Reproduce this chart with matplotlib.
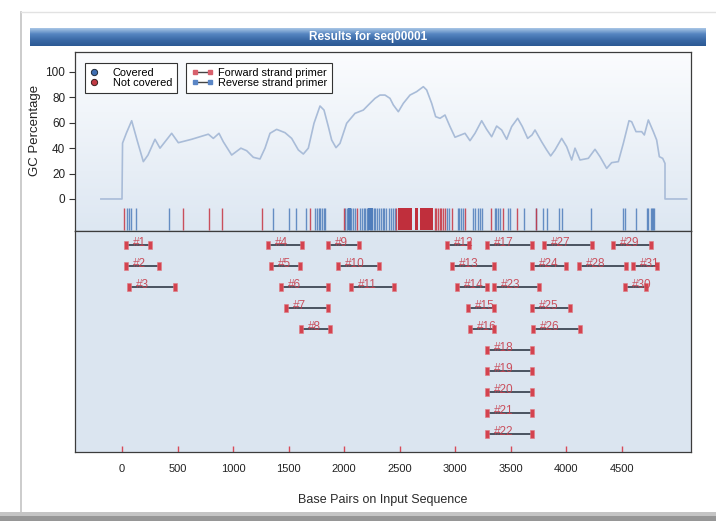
import numpy as np
import matplotlib
matplotlib.use("Agg")
import matplotlib.pyplot as plt
from matplotlib.lines import Line2D
from matplotlib.patches import Rectangle
from matplotlib.colors import LinearSegmentedColormap

# ---------------- data ----------------
gc_bp = [-190, 0, 5, 40, 87, 140, 192, 234, 297, 342, 447, 507, 627, 777, 822, 873, 912,
         987, 1070, 1122, 1182, 1242, 1287, 1332, 1392, 1467, 1527, 1587, 1632, 1677, 1728,
         1782, 1818, 1857, 1887, 1926, 1962, 2022, 2097, 2172, 2217, 2277, 2322, 2367, 2412,
         2442, 2487, 2532, 2592, 2652, 2712, 2742, 2787, 2823, 2862, 2907, 2952, 2997, 3087,
         3132, 3177, 3237, 3282, 3327, 3372, 3417, 3462, 3507, 3561, 3603, 3651, 3690, 3717,
         3777, 3822, 3858, 3897, 3957, 4002, 4047, 4077, 4122, 4197, 4257, 4302, 4362, 4407,
         4467, 4512, 4563, 4587, 4626, 4677, 4701, 4737, 4782, 4812, 4836, 4866, 4887, 4887,
         5082]
gc_val = [0, 0, 44, 52, 61.6, 45, 29.4, 34.6, 47, 40, 51.7, 44.3, 47, 51, 47.7, 51.7, 45,
          34.6, 40, 38, 32.8, 31.5, 40, 51.7, 54.8, 52.2, 47.7, 38.6, 35.4, 40, 59.6,
          73.2, 70, 57, 46.4, 40.4, 43.8, 59.6, 67.4, 70, 74, 79.2, 81.8, 81.8, 79.2,
          74, 68.7, 75.3, 81.8, 84.5, 88.4, 85.8, 75.3, 64.8, 63.5, 66.1, 57, 48.6, 51.7,
          45.9, 51.7, 61.6, 54.8, 49, 57.4, 54.3, 47, 57, 63.5, 57, 47.7, 50.4, 54.3,
          45, 38.6, 33.9, 38.6, 47.7, 41.2, 30.7, 40, 30.7, 32, 39.1, 33.3, 24.1, 28.6,
          29.4, 43.8, 61.6, 60.8, 53, 53, 50.4, 62.2, 53, 46.4, 33.3, 32, 28, 0,
          0]

covered_pos = [48, 66, 81, 123, 423, 1362, 1506, 1566, 1656, 1740, 1755, 1770, 1785, 1800,
               1815, 1830, 2010, 2025, 2040, 2052, 2065, 2080, 2095, 2140, 2160, 2175, 2190,
               2205, 2215, 2228, 2240, 2252, 2265, 2280, 2292, 2310, 2330, 2345, 2360, 2380,
               2400, 2420, 2440, 2455, 2925, 2940, 3021, 3035, 3050, 3069, 3159, 3175, 3200,
               3220, 3240, 3357, 3370, 3385, 3402, 3474, 3490, 3618, 3730, 3786, 3822,
               3933, 3963, 4218, 4506, 4527, 4626, 4722, 4737, 4761, 4770, 4780, 4788]
covered_blocks = [(2030, 2060), (2215, 2260)]
not_covered_pos = [21, 546, 783, 897, 1257, 1692, 1998, 2118, 2470, 2815, 2830, 2845,
                   2860, 2875, 2890, 2905, 2970, 3087, 3321, 3430, 3552, 3726]
not_covered_blocks = [(2480, 2610), (2635, 2665), (2680, 2800)]

primer_ids = list(range(1, 32))
primer_start = [36, 36, 63, 1314, 1341, 1431, 1476, 1611, 1854, 1944, 2061, 2925, 2970,
                3015, 3114, 3132, 3285, 3285, 3285, 3285, 3285, 3285, 3348, 3690, 3690,
                3699, 3798, 4113, 4419, 4527, 4599]
primer_end = [252, 333, 477, 1620, 1602, 1854, 1854, 1872, 2133, 2313, 2448, 3123, 3348,
              3285, 3348, 3348, 3690, 3690, 3690, 3690, 3690, 3690, 3753, 3996, 4032,
              4122, 4230, 4536, 4761, 4716, 4815]
primer_row = [1, 2, 3, 1, 2, 3, 4, 5, 1, 2, 3, 1, 2, 3, 4, 5, 1, 6, 7, 8, 9, 10, 3, 2, 4,
              5, 1, 2, 1, 3, 2]

x_ticks = [0, 500, 1000, 1500, 2000, 2500, 3000, 3500, 4000, 4500]
y_ticks = [0, 20, 40, 60, 80, 100]

# ---------------- style ----------------
FONT = ["Liberation Sans", "DejaVu Sans"]
plt.rcParams["font.family"] = FONT
W, H = 716, 521
fig = plt.figure(figsize=(W / 100, H / 100), dpi=100)
fig.patch.set_facecolor("white")

def fx(px):
    return px / W

def fy(py):
    return 1 - py / H

# card shadow / frame
fig.add_artist(Rectangle((fx(0), fy(521)), 1, fy(512) - fy(521), transform=fig.transFigure,
                         facecolor="#c4c4c4", edgecolor="none", zorder=0))
fig.add_artist(Rectangle((fx(0), fy(521)), 1, fy(516) - fy(521), transform=fig.transFigure,
                         facecolor="#969696", edgecolor="none", zorder=0))
fig.add_artist(Line2D([fx(21), fx(21)], [fy(12), fy(512)], transform=fig.transFigure,
                      color="#c4c4c4", lw=1.2, zorder=0))
fig.add_artist(Line2D([fx(21), fx(716)], [fy(12), fy(12)], transform=fig.transFigure,
                      color="#e2e2e2", lw=1.0, zorder=0))

# title bar
tax = fig.add_axes([fx(30), fy(46), fx(706) - fx(30), fy(28) - fy(46)])
grad_cmap = LinearSegmentedColormap.from_list("bar", ["#a9c6e6", "#5585c0", "#3a69a6", "#2c5a94"])
tax.imshow(np.linspace(0, 1, 64).reshape(-1, 1), aspect="auto", cmap=grad_cmap,
           extent=(0, 1, 0, 1))
tax.set_xlim(0, 1)
tax.set_ylim(0, 1)
tax.axis("off")
tax.text(0.5, 0.48, "Results for seq00001", color="white", fontsize=8.5, fontweight="bold",
         ha="center", va="center")

# axes geometry
L, R = 75, 691
T1, B1, B2 = 52, 231, 452
ax1 = fig.add_axes([fx(L), fy(B1), fx(R) - fx(L), fy(T1) - fy(B1)])
ax2 = fig.add_axes([fx(L), fy(B2), fx(R) - fx(L), fy(B1) - fy(B2)], sharex=ax1)

xlim = (-423, 5121)
ax1.set_xlim(*xlim)
ylim1 = (-25.2, 115.7)
ax1.set_ylim(*ylim1)

bg_cmap = LinearSegmentedColormap.from_list("bg", ["#dde7f2", "#fbfcfe"])
ax1.imshow(np.linspace(0, 1, 128).reshape(-1, 1), aspect="auto", cmap=bg_cmap,
           extent=(xlim[0], xlim[1], ylim1[0], ylim1[1]), origin="lower", zorder=0)

ax1.plot(gc_bp, gc_val, color="#a9bcd8", lw=1.2, zorder=2)

tick_lo, tick_hi = -24.4, -7.1
ax1.vlines(covered_pos, tick_lo, tick_hi, color="#4f7dbb", lw=1.0, alpha=0.85, zorder=3)
ax1.vlines(not_covered_pos, tick_lo, tick_hi, color="#c63442", lw=1.0, alpha=0.85, zorder=3)
ax1.broken_barh([(s, e - s) for s, e in covered_blocks], (tick_lo, tick_hi - tick_lo),
                facecolor="#4f7dbb", edgecolor="none", zorder=3)
ax1.broken_barh([(s, e - s) for s, e in not_covered_blocks], (tick_lo, tick_hi - tick_lo),
                facecolor="#c02f3c", edgecolor="none", zorder=3)

ax1.set_yticks(y_ticks)
ax1.set_yticklabels([str(v) for v in y_ticks])
ax1.tick_params(axis="y", direction="out", length=4.5, width=0.8, color="#333333",
                labelsize=8.5, labelcolor="#222222", pad=2.5)
ax1.tick_params(axis="x", bottom=False, labelbottom=False)
ax1.set_ylabel("GC Percentage", fontsize=9.5, color="#222222")
ax1.yaxis.set_label_coords(-0.056, 0.56)
for sp in ax1.spines.values():
    sp.set_color("#3c3c3c")
    sp.set_linewidth(0.9)

# legends
leg_kw = dict(fontsize=7.9, frameon=True, fancybox=False, borderpad=0.45,
              labelspacing=0.0, borderaxespad=0, framealpha=1)
h1 = [Line2D([], [], ls="none", marker="o", ms=4.5, mfc="#3f6fb3", mec="#1e2a3a", mew=0.7),
      Line2D([], [], ls="none", marker="o", ms=4.5, mfc="#c23a44", mec="#3a1e1e", mew=0.7)]
leg1 = ax1.legend(h1, ["Covered", "Not covered"], loc="upper left",
                  bbox_to_anchor=(0.016, 0.9385), handlelength=0.8, handletextpad=1.3,
                  **leg_kw)
leg1.get_frame().set_edgecolor("#333333")
leg1.get_frame().set_linewidth(0.8)
ax1.add_artist(leg1)
h2 = [Line2D([], [], color="#444444", lw=1.0, marker="s", ms=3.4, mfc="#d8606c", mec="#d8606c"),
      Line2D([], [], color="#444444", lw=1.0, marker="s", ms=3.4, mfc="#5a86c6", mec="#5a86c6")]
leg2 = ax1.legend(h2, ["Forward strand primer", "Reverse strand primer"], loc="upper left",
                  bbox_to_anchor=(0.181, 0.9385), handlelength=2.0, numpoints=2,
                  handletextpad=0.4, **leg_kw)
leg2.get_frame().set_edgecolor("#333333")
leg2.get_frame().set_linewidth(0.8)

# primer panel
ax2.set_facecolor("#dbe5f0")
ax2.set_ylim(10.857, 0.333)
end_marker = [(-0.28, -0.5), (0.28, -0.5), (0.28, 0.5), (-0.28, 0.5), (-0.28, -0.5)]
for pid, s, e, r in zip(primer_ids, primer_start, primer_end, primer_row):
    ax2.plot([s, e], [r, r], color="#4a5260", lw=1.4, zorder=2, solid_capstyle="butt")
    ax2.plot([s, e], [r, r], ls="none", marker=end_marker, ms=5.5, mfc="#d4434f",
             mec="#e07a84", mew=0.4, zorder=3)
    ax2.text(s + 60, r + 0.05, f"#{pid}", color="#c8404e", fontsize=8.5, ha="left",
             va="baseline", zorder=4, alpha=0.9)

ax2.set_yticks([])
ax2.set_xticks(x_ticks)
ax2.set_xticklabels([str(v) for v in x_ticks])
ax2.tick_params(axis="x", direction="in", length=4, width=1.0, color="#d84a58",
                labelsize=8, labelcolor="#222222", pad=9)
ax2.set_xlabel("Base Pairs on Input Sequence", fontsize=9, color="#2a2a2a", labelpad=14)
for sp in ax2.spines.values():
    sp.set_color("#3c3c3c")
    sp.set_linewidth(0.9)

fig.savefig("out.png", dpi=100, facecolor=fig.get_facecolor())
